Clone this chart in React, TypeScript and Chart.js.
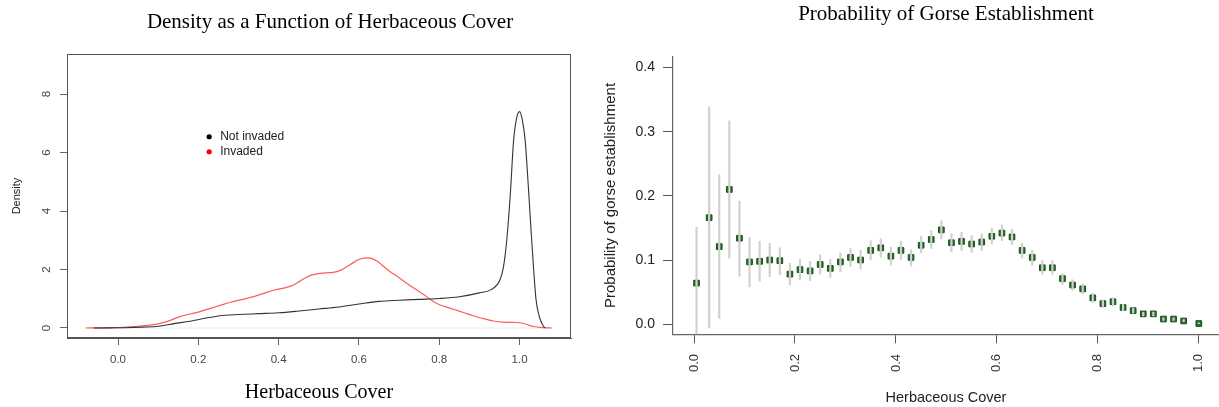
import React, { useEffect, useRef } from 'react';
import { Chart, registerables } from 'chart.js';

Chart.register(...registerables);

// ---------- Left chart: density curves ----------
const DENSITY_TITLE = 'Density as a Function of Herbaceous Cover';
const DENSITY_X_TITLE = 'Herbaceous Cover';
const DENSITY_Y_TITLE = 'Density';
const DENSITY_X_TICKS = [0, 0.2, 0.4, 0.6, 0.8, 1.0];
const DENSITY_Y_TICKS = [0, 2, 4, 6, 8];
const SERIES_LABELS = ['Not invaded', 'Invaded'];

const NOT_INVADED_X = [-0.06, -0.02, 0.02, 0.06, 0.10, 0.14, 0.18, 0.22, 0.26, 0.30, 0.35, 0.40, 0.45, 0.50, 0.55, 0.60, 0.65, 0.70, 0.75, 0.80, 0.85, 0.90, 0.93, 0.951, 0.96, 0.968, 0.977, 0.985, 0.993, 1.0, 1.007, 1.014, 1.021, 1.028, 1.035, 1.041, 1.05, 1.059, 1.064];
const NOT_INVADED_Y = [0, 0.005, 0.01, 0.03, 0.06, 0.15, 0.23, 0.34, 0.43, 0.46, 0.49, 0.52, 0.58, 0.65, 0.72, 0.82, 0.91, 0.95, 0.98, 1.01, 1.07, 1.2, 1.32, 1.64, 2.1, 3.0, 4.6, 6.4, 7.2, 7.4, 7.1, 6.4, 5.0, 3.46, 2.0, 0.96, 0.35, 0.07, 0];

const INVADED_X = [-0.08, -0.04, 0.0, 0.04, 0.08, 0.105, 0.13, 0.154, 0.18, 0.204, 0.23, 0.258, 0.28, 0.304, 0.34, 0.37, 0.39, 0.403, 0.42, 0.437, 0.455, 0.478, 0.503, 0.536, 0.555, 0.57, 0.59, 0.603, 0.623, 0.644, 0.66, 0.677, 0.70, 0.719, 0.74, 0.76, 0.78, 0.794, 0.815, 0.835, 0.86, 0.885, 0.91, 0.935, 0.96, 0.985, 1.001, 1.018, 1.034, 1.059, 1.08];
const INVADED_Y = [0, 0.005, 0.01, 0.05, 0.1, 0.16, 0.26, 0.39, 0.48, 0.56, 0.67, 0.79, 0.88, 0.96, 1.08, 1.22, 1.3, 1.34, 1.39, 1.47, 1.62, 1.79, 1.87, 1.9, 1.98, 2.1, 2.27, 2.36, 2.4, 2.3, 2.12, 1.93, 1.72, 1.53, 1.33, 1.15, 0.96, 0.84, 0.73, 0.64, 0.53, 0.42, 0.32, 0.24, 0.2, 0.19, 0.18, 0.12, 0.05, 0.01, 0];

const ZERO_LINE_X = [-0.08, 1.08];
const ZERO_LINE_Y = [0, 0];

// ---------- Right chart: probability of establishment ----------
const PROB_TITLE = 'Probability of Gorse Establishment';
const PROB_X_TITLE = 'Herbaceous Cover';
const PROB_Y_TITLE = 'Probability of gorse establishment';
const PROB_X_TICKS = [0, 0.2, 0.4, 0.6, 0.8, 1.0];
const PROB_Y_TICKS = [0, 0.1, 0.2, 0.3, 0.4];

const COVER_BINS = [0.005, 0.03, 0.05, 0.07, 0.09, 0.11, 0.13, 0.15, 0.17, 0.19, 0.21, 0.23, 0.25, 0.27, 0.29, 0.31, 0.33, 0.35, 0.37, 0.39, 0.41, 0.43, 0.45, 0.47, 0.49, 0.51, 0.53, 0.55, 0.57, 0.59, 0.61, 0.63, 0.65, 0.67, 0.69, 0.71, 0.73, 0.75, 0.77, 0.79, 0.81, 0.83, 0.85, 0.87, 0.89, 0.91, 0.93, 0.95, 0.97, 1.0];
const PROB = [0.064, 0.166, 0.121, 0.210, 0.134, 0.097, 0.098, 0.100, 0.099, 0.078, 0.085, 0.083, 0.093, 0.087, 0.097, 0.104, 0.100, 0.115, 0.119, 0.106, 0.115, 0.104, 0.123, 0.132, 0.147, 0.127, 0.129, 0.125, 0.128, 0.137, 0.142, 0.136, 0.115, 0.104, 0.088, 0.088, 0.071, 0.061, 0.055, 0.041, 0.032, 0.035, 0.026, 0.021, 0.016, 0.016, 0.008, 0.008, 0.005, 0.001];
const PROB_LO = [-0.02, -0.006, 0.009, 0.103, 0.075, 0.058, 0.067, 0.074, 0.077, 0.061, 0.069, 0.068, 0.078, 0.073, 0.082, 0.090, 0.086, 0.100, 0.104, 0.092, 0.101, 0.091, 0.111, 0.118, 0.133, 0.113, 0.115, 0.112, 0.115, 0.125, 0.130, 0.124, 0.103, 0.092, 0.078, 0.078, 0.062, 0.053, 0.047, 0.034, 0.026, 0.029, 0.021, 0.017, 0.013, 0.013, 0.006, 0.006, 0.004, 0.0];
const PROB_HI = [0.151, 0.339, 0.233, 0.317, 0.192, 0.135, 0.129, 0.126, 0.119, 0.095, 0.101, 0.098, 0.108, 0.101, 0.111, 0.118, 0.115, 0.130, 0.133, 0.120, 0.129, 0.116, 0.137, 0.146, 0.161, 0.141, 0.143, 0.138, 0.141, 0.150, 0.155, 0.148, 0.126, 0.115, 0.099, 0.099, 0.079, 0.069, 0.063, 0.048, 0.038, 0.041, 0.031, 0.025, 0.019, 0.019, 0.010, 0.010, 0.007, 0.002];

const SANS = '"Liberation Sans", Arial, Helvetica, sans-serif';
const SERIF = '"Liberation Serif", "Times New Roman", serif';

const fixedTicks = (values: number[]) => (scale: any) => {
  scale.ticks = values.map((value) => ({ value }));
};

const boxPlugin = {
  id: 'plotBox',
  beforeDatasetsDraw(chart: any) {
    const { ctx, chartArea: a } = chart;
    ctx.save();
    ctx.strokeStyle = '#555';
    ctx.lineWidth = 1;
    const l = Math.round(a.left) + 0.5;
    const t = Math.round(a.top) + 0.5;
    const r = Math.round(a.right) - 0.5;
    const b = Math.round(a.bottom) - 0.5;
    ctx.strokeRect(l, t, r - l, b - t);
    ctx.restore();
  },
};

const LEGEND_ANCHOR = { x: 0.227, y: 6.54 };
const LEGEND_DOTS = ['#000000', '#ff0000'];

const innerLegendPlugin = {
  id: 'innerLegend',
  afterDatasetsDraw(chart: any) {
    const { ctx } = chart;
    const xs = chart.scales.x;
    const ys = chart.scales.y;
    const px = xs.getPixelForValue(LEGEND_ANCHOR.x);
    const py0 = ys.getPixelForValue(LEGEND_ANCHOR.y);
    ctx.save();
    ctx.font = `12px ${SANS}`;
    ctx.textBaseline = 'middle';
    ctx.textAlign = 'left';
    SERIES_LABELS.forEach((label, i) => {
      const py = py0 + i * 15;
      ctx.fillStyle = LEGEND_DOTS[i];
      ctx.beginPath();
      ctx.arc(px, py, 2.6, 0, Math.PI * 2);
      ctx.fill();
      ctx.fillStyle = '#222';
      ctx.fillText(label, px + 11, py);
    });
    ctx.restore();
  },
};

function densityConfig(): any {
  return {
    type: 'line',
    data: {
      datasets: [
        {
          label: 'zero',
          data: ZERO_LINE_X.map((x, i) => ({ x, y: ZERO_LINE_Y[i] })),
          borderColor: '#ececec',
          borderWidth: 1,
          pointRadius: 0,
          order: 3,
        },
        {
          label: SERIES_LABELS[0],
          data: NOT_INVADED_X.map((x, i) => ({ x, y: NOT_INVADED_Y[i] })),
          borderColor: '#333333',
          borderWidth: 1.1,
          pointRadius: 0,
          cubicInterpolationMode: 'monotone',
          order: 1,
        },
        {
          label: SERIES_LABELS[1],
          data: INVADED_X.map((x, i) => ({ x, y: INVADED_Y[i] })),
          borderColor: '#ff5a5a',
          borderWidth: 1.2,
          pointRadius: 0,
          cubicInterpolationMode: 'monotone',
          order: 2,
        },
      ],
    },
    options: {
      responsive: false,
      animation: false,
      devicePixelRatio: 1,
      events: [],
      layout: { padding: 0 },
      plugins: {
        legend: { display: false },
        tooltip: { enabled: false },
        title: {
          display: true,
          text: DENSITY_TITLE,
          fullSize: true,
          color: '#000',
          font: { family: SERIF, size: 21, weight: 'normal' },
          padding: { top: 9.4, bottom: 19.4 },
        },
      },
      scales: {
        x: {
          type: 'linear',
          min: -0.127,
          max: 1.128,
          offset: false,
          afterBuildTicks: fixedTicks(DENSITY_X_TICKS),
          afterFit: (s: any) => { s.height = 69; },
          ticks: {
            autoSkip: false,
            minRotation: 0,
            maxRotation: 0,
            padding: 8,
            color: '#444',
            font: { family: SANS, size: 11.5 },
            callback: (v: any) => Number(v).toFixed(1),
          },
          grid: { display: true, offset: false, drawOnChartArea: false, drawTicks: true, tickLength: 7, tickColor: '#666', tickWidth: 1 },
          border: { display: true, color: '#555', width: 1 },
          title: {
            display: true,
            text: DENSITY_X_TITLE,
            color: '#000',
            font: { family: SERIF, size: 20 },
            padding: { top: 0, bottom: 2 },
          },
        },
        y: {
          type: 'linear',
          min: -0.342,
          max: 9.37,
          afterBuildTicks: fixedTicks(DENSITY_Y_TICKS),
          afterFit: (s: any) => { s.width = 67; },
          ticks: {
            minRotation: 90,
            maxRotation: 90,
            crossAlign: 'center',
            padding: 10,
            color: '#444',
            font: { family: SANS, size: 11.5 },
            callback: (v: any) => String(v),
          },
          grid: { display: true, drawOnChartArea: false, drawTicks: true, tickLength: 7, tickColor: '#666', tickWidth: 1 },
          border: { display: true, color: '#555', width: 1 },
          title: {
            display: true,
            text: DENSITY_Y_TITLE,
            color: '#222',
            font: { family: SANS, size: 11 },
            padding: { top: 10.4, bottom: 0 },
          },
        },
        ySpacer: {
          type: 'linear',
          axis: 'y',
          position: 'right',
          display: true,
          afterFit: (s: any) => { s.width = 89; },
          grid: { display: false },
          ticks: { display: false },
          border: { display: false },
        },
      },
    },
    plugins: [boxPlugin, innerLegendPlugin],
  };
}

function probConfig(): any {
  return {
    type: 'scatter',
    data: {
      datasets: [
        {
          type: 'bar',
          label: 'interval',
          data: COVER_BINS.map((x, i) => ({ x, y: [PROB_LO[i], PROB_HI[i]] })),
          backgroundColor: '#d0d0d0',
          borderWidth: 0,
          barThickness: 1.5,
          order: 0,
        },
        {
          type: 'scatter',
          label: 'probability',
          data: COVER_BINS.map((x, i) => ({ x, y: PROB[i] })),
          pointStyle: 'rect',
          pointRadius: 4,
          backgroundColor: '#2a6e2a',
          borderColor: '#174f17',
          borderWidth: 1,
          order: 1,
        },
      ],
    },
    options: {
      responsive: false,
      animation: false,
      devicePixelRatio: 1,
      events: [],
      layout: { padding: { left: 0, right: 10, top: 0, bottom: 0 } },
      plugins: {
        legend: { display: false },
        tooltip: { enabled: false },
        title: {
          display: true,
          text: PROB_TITLE,
          fullSize: false,
          color: '#000',
          font: { family: SERIF, size: 21, weight: 'normal' },
          padding: { top: 2.1, bottom: 29.4 },
        },
      },
      scales: {
        x: {
          type: 'linear',
          min: -0.0416,
          max: 1.04,
          offset: false,
          afterBuildTicks: fixedTicks(PROB_X_TICKS),
          afterFit: (s: any) => { s.height = 72.7; },
          ticks: {
            autoSkip: false,
            minRotation: 90,
            maxRotation: 90,
            padding: 10.7,
            color: '#333',
            font: { family: SANS, size: 13 },
            callback: (v: any) => Number(v).toFixed(1),
          },
          grid: { display: true, offset: false, drawOnChartArea: false, drawTicks: true, tickLength: 9, tickColor: '#555', tickWidth: 1 },
          border: { display: true, color: '#666', width: 1.2 },
          title: {
            display: true,
            text: PROB_X_TITLE,
            color: '#222',
            font: { family: SANS, size: 14.5 },
            padding: { top: 0, bottom: 0 },
          },
        },
        y: {
          type: 'linear',
          min: -0.0158,
          max: 0.417,
          offset: false,
          afterBuildTicks: fixedTicks(PROB_Y_TICKS),
          afterFit: (s: any) => { s.width = 83; },
          ticks: {
            padding: 8,
            color: '#222',
            font: { family: SANS, size: 14 },
            callback: (v: any) => Number(v).toFixed(1),
          },
          grid: { display: true, offset: false, drawOnChartArea: false, drawTicks: true, tickLength: 10, tickColor: '#555', tickWidth: 1 },
          border: { display: true, color: '#666', width: 1.2 },
          title: {
            display: true,
            text: PROB_Y_TITLE,
            color: '#222',
            font: { family: SANS, size: 15 },
            padding: { top: 11.5, bottom: 0 },
          },
        },
      },
    },
  };
}

export default function App() {
  const leftRef = useRef<HTMLCanvasElement>(null);
  const rightRef = useRef<HTMLCanvasElement>(null);

  useEffect(() => {
    const left = new Chart(leftRef.current as HTMLCanvasElement, densityConfig());
    const right = new Chart(rightRef.current as HTMLCanvasElement, probConfig());
    return () => {
      left.destroy();
      right.destroy();
    };
  }, []);

  return (
    <div
      style={{
        position: 'absolute',
        left: 0,
        top: 0,
        width: 1219,
        height: 407,
        overflow: 'hidden',
        background: '#fff',
      }}
    >
      <canvas
        ref={leftRef}
        width={660}
        height={407}
        style={{ position: 'absolute', left: 0, top: 0, width: 660, height: 407 }}
      />
      <canvas
        ref={rightRef}
        width={639}
        height={407}
        style={{ position: 'absolute', left: 590, top: 0, width: 639, height: 407 }}
      />
    </div>
  );
}
